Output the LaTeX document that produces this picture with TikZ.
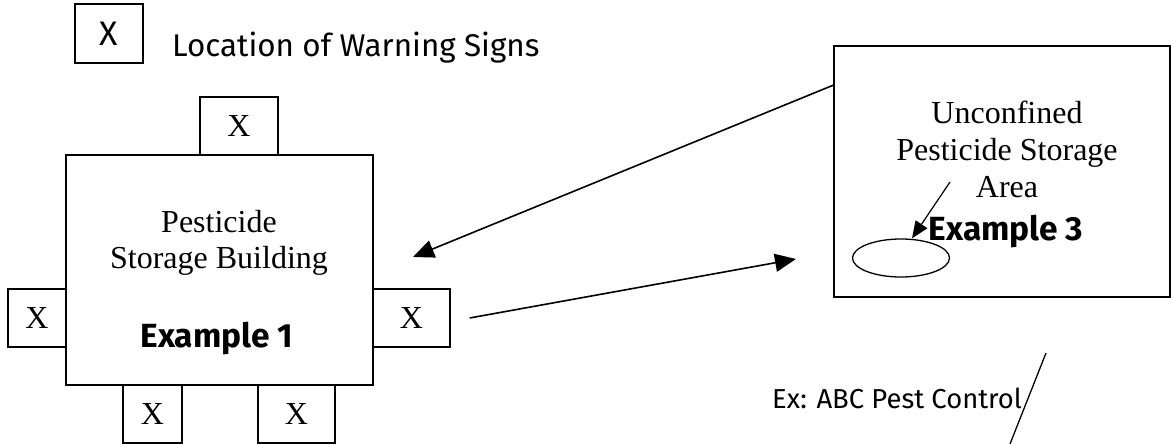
\documentclass[tikz,border=0pt]{standalone}
\usepackage{fontspec}
\setmainfont{Liberation Serif}
\newfontfamily\comicfont{Fira Sans}
\usetikzlibrary{shapes.geometric,arrows.meta,positioning}

\begin{document}
\begin{tikzpicture}[x=1pt,y=-1pt,
    signbox/.style={draw, line width=1.3pt, inner sep=0pt, minimum height=58pt, font=\fontsize{32}{36}\selectfont},
    plan/.style={draw, line width=1.6pt, inner sep=0pt},
    serifline/.style={anchor=base, inner sep=0pt, font=\fontsize{32}{36}\selectfont},
    comic/.style={anchor=base west, inner sep=0pt, font=\comicfont\fontsize{27.4}{31}\selectfont},
    boldcomic/.style={anchor=base, inner sep=0pt, font=\comicfont\bfseries\fontsize{33.5}{37}\selectfont},
    pointer/.style={line width=1.6pt, -{Triangle[length=21pt,width=18pt]}}]
    \useasboundingbox (0,0) rectangle (1171,444);

    \node [signbox, minimum width=68pt, minimum height=59pt, font=\comicfont\fontsize{34}{38}\selectfont] (key) at (109,33.5) {X};
    \node [comic, font=\comicfont\fontsize{31.4}{35}\selectfont] (keytxt) at (172,57) {Location of Warning Signs};

    \node [plan, minimum width=307pt, minimum height=230pt] (bldg) at (219.5,270) {};
    \node [serifline] (bldg1) at (219,232) {Pesticide};
    \node [serifline] (bldg2) at (219,268) {Storage Building};
    \node [boldcomic] (ex1) at (217,347) {Example 1};

    \node [signbox, minimum width=78pt] (stop) at (239,126) {X};
    \node [signbox, minimum width=58pt] (sleft) at (37,318) {X};
    \node [signbox, minimum width=77pt] (sright) at (411.5,318) {X};
    \node [signbox, minimum width=59pt] (sbl) at (152.5,414) {X};
    \node [signbox, minimum width=77pt] (sbr) at (296.5,414) {X};

    \node [plan, minimum width=336pt, minimum height=251pt] (area) at (1002,171.5) {};
    \node [serifline] (area1) at (1007,123) {Unconfined};
    \node [serifline] (area2) at (1007,160) {Pesticide Storage};
    \node [serifline] (area3) at (1007,197) {Area};
    \node [boldcomic] (ex3) at (1006,240) {Example 3};
    \node [draw, ellipse, line width=1.3pt, minimum width=97pt, minimum height=38pt, inner sep=0pt] (spot) at (901,258) {};

    \coordinate (tip1) at (413,257);
    \coordinate (tip2) at (796,259);
    \coordinate (tail3) at (950,182);
    \draw [pointer] ([yshift=-40pt]area.north west) -- (tip1);
    \draw [pointer] ([xshift=19pt]sright.east) -- (tip2);
    \draw [line width=1.2pt, -{Triangle[length=17pt,width=14pt]}] (tail3) -- ([xshift=11pt]spot.north);

    \node [comic] (firm) at (772,408) {Ex: ABC Pest Control};
    \coordinate (slash1) at (1046,353);
    \coordinate (slash2) at (1010,444);
    \draw [line width=1.3pt] (slash1) -- (slash2);
\end{tikzpicture}
\end{document}
